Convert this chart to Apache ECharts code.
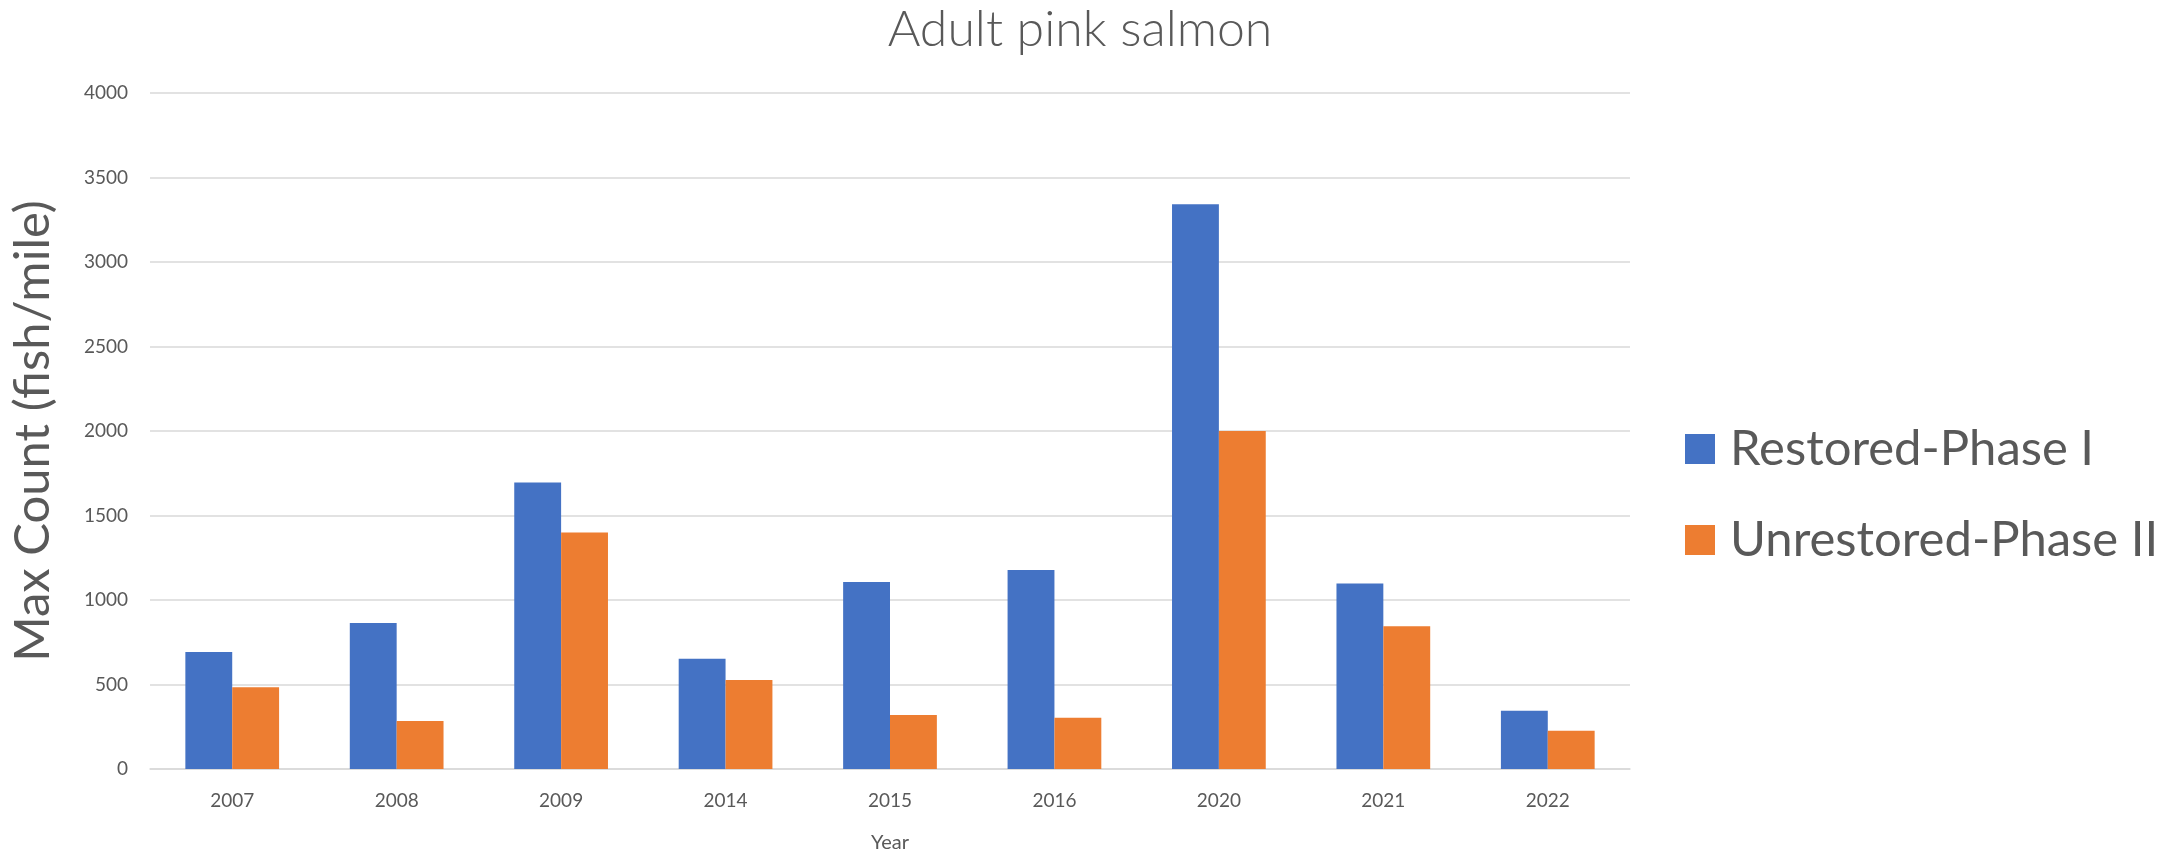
<!DOCTYPE html>
<html>
<head>
<meta charset="utf-8">
<title>Adult pink salmon</title>
<script src="https://cdn.jsdelivr.net/npm/echarts@6/dist/echarts.min.js"></script>
<style>
  html, body { margin: 0; padding: 0; background: #fff; }
  #chart { width: 2181px; height: 854px; }
</style>
</head>
<body>
<div id="chart"></div>
<script>
// values
const years = ["2007", "2008", "2009", "2014", "2015", "2016", "2020", "2021", "2022"];
const restored = [692, 864, 1695, 653, 1107, 1178, 3342, 1098, 344];
const unrestored = [483, 284, 1400, 527, 320, 303, 2000, 845, 226];

const textColor = "#595959";
const font = "Lato";

const chart = echarts.init(document.getElementById("chart"));

const option = {
  backgroundColor: "#fff",
  color: ["#4472C4", "#ED7D31"],
  title: {
    text: "Adult pink salmon",
    left: 1075,
    top: 0,
    textAlign: "center",
    textStyle: {
      fontFamily: font,
      fontWeight: 300,
      fontSize: 50,
      color: textColor
    }
  },
  legend: {
    orient: "vertical",
    left: 1680,
    top: 414,
    itemWidth: 30,
    itemHeight: 30,
    itemGap: 31,
    icon: "rect",
    textStyle: {
      fontFamily: font,
      fontSize: 49,
      lineHeight: 60,
      color: textColor,
      padding: [0, 0, 0, 10]
    },
    data: ["Restored-Phase I", "Unrestored-Phase II"]
  },
  grid: {
    left: 150,
    right: 551,
    top: 93,
    bottom: 85,
    outerBoundsMode: "none"
  },
  xAxis: {
    type: "category",
    data: years,
    name: "Year",
    nameLocation: "middle",
    nameGap: 64,
    nameTextStyle: {
      fontFamily: font,
      fontSize: 20,
      color: textColor
    },
    axisLine: { lineStyle: { color: "#D9D9D9", width: 1.5 } },
    axisTick: { show: false },
    axisLabel: {
      fontFamily: font,
      fontSize: 19,
      color: textColor,
      margin: 22
    }
  },
  yAxis: {
    type: "value",
    min: 0,
    max: 4000,
    interval: 500,
    name: "Max Count (fish/mile)",
    nameLocation: "middle",
    nameGap: 92,
    nameTextStyle: {
      fontFamily: font,
      fontSize: 49,
      color: textColor
    },
    axisLine: { show: false },
    axisTick: { show: false },
    splitLine: { lineStyle: { color: "#D9D9D9", width: 1.5 } },
    axisLabel: {
      fontFamily: font,
      fontSize: 19,
      color: textColor,
      margin: 22,
      formatter: v => String(v)
    }
  },
  series: [
    {
      name: "Restored-Phase I",
      type: "bar",
      data: restored,
      barGap: "0%",
      barCategoryGap: "43%"
    },
    {
      name: "Unrestored-Phase II",
      type: "bar",
      data: unrestored,
      barGap: "0%",
      barCategoryGap: "43%"
    }
  ]
};

chart.setOption(option);
</script>
</body>
</html>
